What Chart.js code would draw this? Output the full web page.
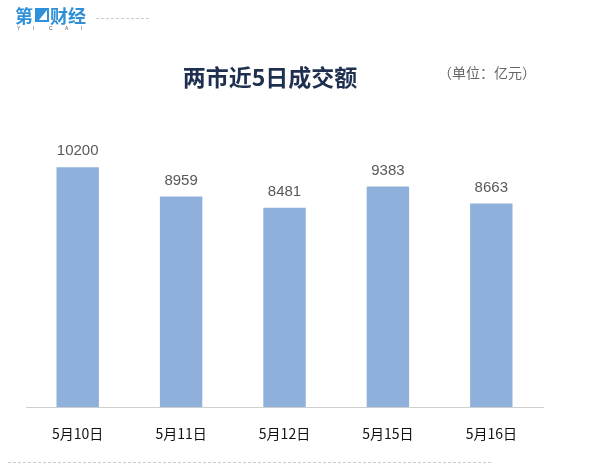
<!DOCTYPE html>
<html><head><meta charset="utf-8">
<script src="https://cdn.jsdelivr.net/npm/chart.js@4"></script>
<style>html,body{margin:0;padding:0;background:#fff}#w{width:600px;height:472px}</style>
</head><body><div id="w"><canvas id="c"></canvas></div>
<script>
const categories = ["5月10日","5月11日","5月12日","5月15日","5月16日"];
const values = [10200, 8959, 8481, 9383, 8663];
const titleText = "两市近5日成交额";
const unitText = "（单位：亿元）";

const extras = {
  id:'extras',
  afterDatasetsDraw(chart){
    const ctx = chart.ctx;
    const meta = chart.getDatasetMeta(0);
    ctx.save();
    ctx.fillStyle = '#595959';
    ctx.font = '15px "Liberation Sans", Arial, sans-serif';
    ctx.textAlign = 'center';
    ctx.textBaseline = 'middle';
    meta.data.forEach((b,i)=>{ ctx.fillText(String(values[i]), b.x, b.y - 16); });
    ctx.fillStyle = '#1f2f4f';
    ctx.font = 'bold 23px "Noto Sans CJK SC", sans-serif';
    ctx.fillText(titleText, 270, 77);
    ctx.fillStyle = '#666';
    ctx.font = '14px "Noto Sans CJK SC", sans-serif';
    ctx.fillText(unitText, 487, 73);
    ctx.fillStyle = '#2f8fd8';
    ctx.font = 'bold 18px "Noto Sans CJK SC", sans-serif';
    ctx.textAlign = 'left';
    ctx.fillText("第", 15, 16);
    ctx.fillRect(35, 8, 14, 14);
    ctx.fillStyle = '#fff';
    ctx.beginPath(); ctx.moveTo(39,20); ctx.lineTo(47,10); ctx.lineTo(47,20); ctx.closePath(); ctx.fill();
    ctx.fillStyle = '#2f8fd8';
    ctx.fillText("财经", 50, 16);
    ctx.font = '5px sans-serif';
    ctx.fillStyle = '#555';
    ['Y','I','C','A','I'].forEach((l,i)=>ctx.fillText(l, 17 + i*16, 29));
    ctx.strokeStyle = '#ccc';
    ctx.setLineDash([3,2]);
    ctx.lineWidth = 1;
    ctx.beginPath(); ctx.moveTo(96,18.5); ctx.lineTo(150,18.5); ctx.stroke();
    ctx.beginPath(); ctx.moveTo(8,462.5); ctx.lineTo(492,462.5); ctx.stroke();
    ctx.restore();
  }
};

new Chart(document.getElementById('c'), {
  type:'bar',
  data:{labels:categories, datasets:[{data:values, backgroundColor:'#8fb0da', borderWidth:0,
    barPercentage:0.41, categoryPercentage:1}]},
  options:{
    responsive:true, maintainAspectRatio:false, animation:false,
    layout:{padding:{top:125,left:26,right:57,bottom:12}},
    plugins:{legend:{display:false}, tooltip:{enabled:false}},
    scales:{
      x:{grid:{display:false, drawTicks:false}, border:{color:'#cfcfcf'},
         ticks:{color:'#111', padding:18, font:{size:14, family:'"Noto Sans CJK SC", sans-serif'}}},
      y:{display:false, min:0, max:12000}
    }
  },
  plugins:[extras]
});
</script></body></html>
